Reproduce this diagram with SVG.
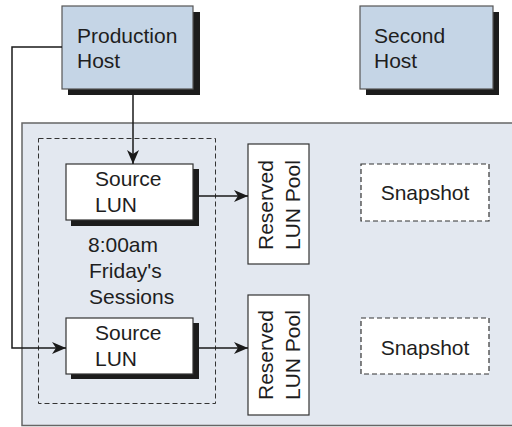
<svg xmlns="http://www.w3.org/2000/svg" width="512" height="427" viewBox="0 0 512 427">
  <defs>
    <style>
      text { font-family: "Liberation Sans", Arial, sans-serif; font-size: 21px; fill: #1e1e1e; }
      .host { fill: #c5d5e6; stroke: #555; stroke-width: 1.2; }
      .shadow { fill: #1c1c1c; }
      .box { fill: #fff; stroke: #333; stroke-width: 1.2; }
      .dash { fill: none; stroke: #333; stroke-width: 1; stroke-dasharray: 5 3; }
      .dashbox { fill: #fff; stroke: #333; stroke-width: 1.2; stroke-dasharray: 5 3; }
      .conn { fill: none; stroke: #1a1a1a; stroke-width: 1.5; }
    </style>
    <marker id="arr" viewBox="0 0 14 12" refX="14" refY="6" markerWidth="14" markerHeight="12" markerUnits="userSpaceOnUse" orient="auto">
      <path d="M0,0 L14,6 L0,12 L4,6 Z" fill="#1a1a1a"/>
    </marker>
  </defs>

  <rect id="panel" x="22" y="123" width="492" height="302.5" fill="#e3e8f0" stroke="#666" stroke-width="1.5"/>

  <g id="production-host">
    <rect class="shadow" x="68" y="12" width="132" height="83"/>
    <rect class="host" x="62" y="6" width="131" height="83"/>
    <text x="77" y="43">Production</text>
    <text x="77" y="68">Host</text>
  </g>

  <g id="second-host">
    <rect class="shadow" x="366" y="12" width="133" height="83"/>
    <rect class="host" x="360" y="6" width="133" height="83"/>
    <text x="374" y="43">Second</text>
    <text x="374" y="68">Host</text>
  </g>

  <g id="session-group">
    <rect class="dash" x="38.5" y="138.5" width="177" height="265"/>
    <text x="88" y="252">8:00am</text>
    <text x="89" y="278">Friday's</text>
    <text x="89" y="304">Sessions</text>
  </g>

  <g id="source-lun-1">
    <rect class="shadow" x="71" y="169" width="128" height="57"/>
    <rect class="box" x="66" y="164" width="127" height="56"/>
    <text x="95" y="186">Source</text>
    <text x="95" y="212">LUN</text>
  </g>

  <g id="source-lun-2">
    <rect class="shadow" x="71" y="323" width="128" height="56"/>
    <rect class="box" x="66" y="318" width="127" height="56"/>
    <text x="95" y="340">Source</text>
    <text x="95" y="366">LUN</text>
  </g>

  <g id="reserved-pool-1">
    <rect class="box" x="248" y="144" width="61" height="120"/>
    <text transform="translate(273,250) rotate(-90)">Reserved</text>
    <text transform="translate(300,250) rotate(-90)">LUN Pool</text>
  </g>

  <g id="reserved-pool-2">
    <rect class="box" x="248" y="295" width="61" height="120"/>
    <text transform="translate(273,400) rotate(-90)">Reserved</text>
    <text transform="translate(300,400) rotate(-90)">LUN Pool</text>
  </g>

  <g id="snapshot-1">
    <rect class="dashbox" x="361" y="164" width="128" height="57"/>
    <text x="425" y="200" text-anchor="middle">Snapshot</text>
  </g>

  <g id="snapshot-2">
    <rect class="dashbox" x="361" y="318" width="128" height="56"/>
    <text x="425" y="355" text-anchor="middle">Snapshot</text>
  </g>

  <g id="connectors">
    <path class="conn" d="M133,95 L133,164" marker-end="url(#arr)"/>
    <path class="conn" d="M62,47 L12,47 L12,348 L66,348" marker-end="url(#arr)"/>
    <path class="conn" d="M199,196 L248,196" marker-end="url(#arr)"/>
    <path class="conn" d="M199,348 L248,348" marker-end="url(#arr)"/>
  </g>
</svg>
